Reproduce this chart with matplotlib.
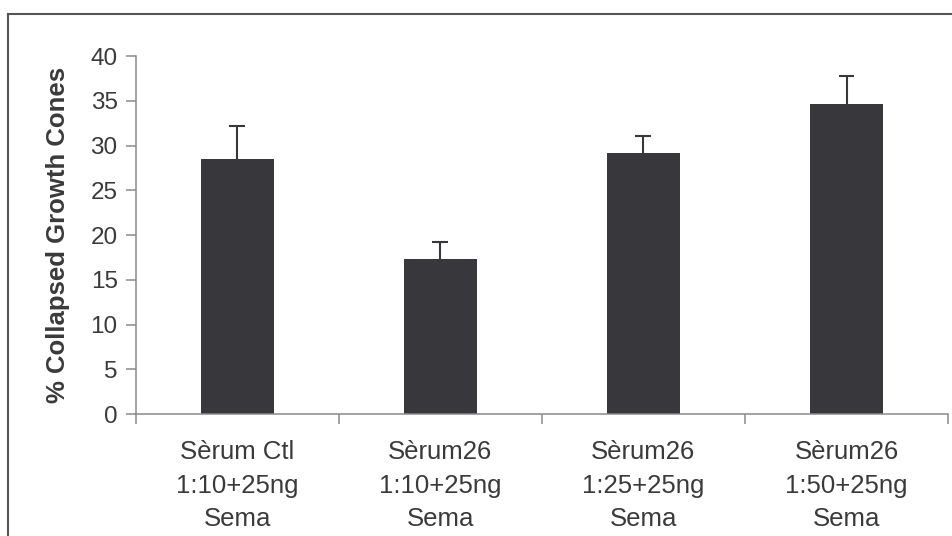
import numpy as np
import matplotlib
matplotlib.use('Agg')
import matplotlib.pyplot as plt
from matplotlib.patches import Rectangle

plt.rcParams['font.family'] = ['Liberation Sans', 'DejaVu Sans']

categories = ['Sèrum Ctl\n1:10+25ng\nSema', 'Sèrum26\n1:10+25ng\nSema',
              'Sèrum26\n1:25+25ng\nSema', 'Sèrum26\n1:50+25ng\nSema']
collapsed = [28.5, 17.3, 29.2, 34.6]
errors = [3.7, 1.9, 1.9, 3.2]
y_ticks = [0, 5, 10, 15, 20, 25, 30, 35, 40]

bar_color = '#38373c'
spine_color = '#8a8a8a'
text_color = '#3a3a3a'

fig = plt.figure(figsize=(9.53, 5.36), dpi=100)
ax = fig.add_axes([0.1424, 0.2276, 0.8524, 0.6679])

x = np.arange(len(categories))
ax.bar(x, collapsed, width=0.36, color=bar_color, zorder=2)

# upper-only error bars: stem from bar top plus a cap
tops = np.array(collapsed) + np.array(errors)
ax.vlines(x, collapsed, tops, color=bar_color, linewidth=1.5, zorder=3)
ax.hlines(tops, x - 0.039, x + 0.039, color=bar_color, linewidth=1.5, zorder=3)

ax.set_xlim(-0.5, len(categories) - 0.5)
ax.set_ylim(0, 40)
ax.set_yticks(y_ticks)
ax.set_yticklabels([str(t) for t in y_ticks])

ax.set_xticks(x)
ax.set_xticklabels(categories, linespacing=1.5)
ax.set_xticks(np.arange(-0.5, len(categories)), minor=True)
ax.tick_params(axis='x', which='major', length=0, pad=19, labelsize=18.5, labelcolor=text_color)
ax.tick_params(axis='x', which='minor', length=7, width=1.1, color=spine_color, direction='out')
ax.tick_params(axis='y', length=7, width=1.1, color=spine_color, pad=6,
               labelsize=17.5, labelcolor=text_color)

for side in ['top', 'right']:
    ax.spines[side].set_visible(False)
for side in ['left', 'bottom']:
    ax.spines[side].set_color(spine_color)
    ax.spines[side].set_linewidth(1.1)

ax.set_ylabel('% Collapsed Growth Cones', fontsize=18.5, fontweight='bold',
              color=text_color, labelpad=15)

# outer frame, runs off the right and bottom edges
fig.patches.append(Rectangle((7.7 / 953, -0.1), 1.2, 1.1 - 13.5 / 536,
                             transform=fig.transFigure, fill=False,
                             edgecolor='#555555', linewidth=1.5))

fig.savefig('out.png', dpi=100)
